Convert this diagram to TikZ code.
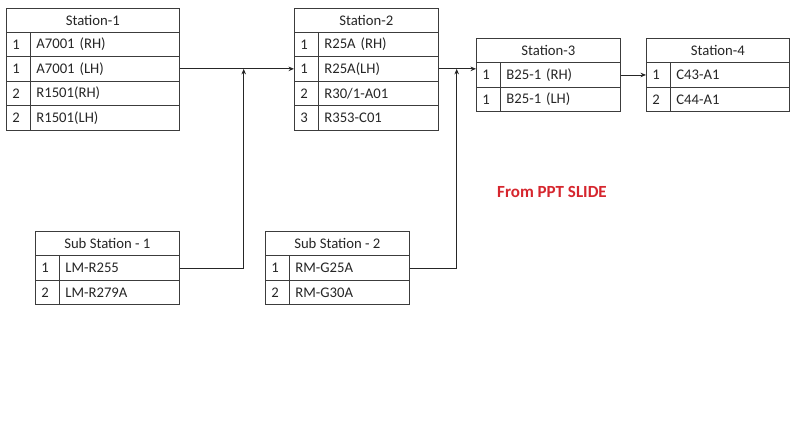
\documentclass[tikz,border=0pt]{standalone}
\usepackage{fontspec}
\setmainfont{Carlito}
\usetikzlibrary{arrows.meta}
\definecolor{slidered}{RGB}{214,38,46}
\definecolor{gridline}{RGB}{60,60,60}
\tikzset{
  cellbase/.style={draw=gridline, line width=0.7pt, minimum height=24.4pt, inner ysep=0pt, inner xsep=6pt,
    font=\fontsize{14.7}{17}\selectfont, text=black!85, anchor=north west},
  hdr/.style={cellbase, align=center},
  numcell/.style={cellbase, text width=12pt, align=left},
  txtcell/.style={cellbase, align=left},
  conn/.style={draw=black!85, line width=0.8pt},
  tip/.style={-{Stealth[length=5.5pt,width=4.5pt]}},
}
\newcommand\mktable[6]{%
  \pgfmathsetmacro\tabw{#4}%
  \pgfmathsetmacro\txw{#4-24-12}%
  \node[hdr, minimum width=\tabw pt] (#1h) at (#2,#3) {#5};
  \foreach [count=\i] \n/\t in {#6} {
    \node[numcell] (#1n\i) at (#2,{#3+\i*24.4}) {\n};
    \node[txtcell, text width=\txw pt] (#1t\i) at ({#2+24},{#3+\i*24.4}) {\t};
  }%
}
\begin{document}
\begin{tikzpicture}[x=1pt,y=-1pt]
\useasboundingbox[fill=white] (0,0) rectangle (800,442);
\mktable{sa}{6}{7.5}{173}{Station-1}{1/A7001 (RH),1/A7001 (LH),2/R1501(RH),2/R1501(LH)}
\mktable{sb}{294}{7.5}{144}{Station-2}{1/R25A (RH),1/R25A(LH),2/R30\slash 1-A01,3/R353-C01}
\mktable{sc}{476}{38}{144}{Station-3}{1/B25-1 (RH),1/B25-1 (LH)}
\mktable{sd}{646}{38}{143}{Station-4}{1/C43-A1,2/C44-A1}
\mktable{ua}{35}{231}{144}{Sub Station - 1}{1/LM-R255,2/LM-R279A}
\mktable{ub}{265}{231}{144}{Sub Station - 2}{1/RM-G25A,2/RM-G30A}
\coordinate (ja) at ([xshift=64pt]sat2.east);
\coordinate (jb) at ([xshift=18pt]sbt2.east);
\draw[conn, tip] (sat2.east) -- (sbn2.west);
\draw[conn, tip] (uat1.east) -| (ja);
\draw[conn, tip] (sbt2.east) -- (sbt2.east -| scn1.west);
\draw[conn, tip] (ubt1.east) -| (jb);
\draw[conn, tip] (sct1.east) -- (sdn1.west);
\node[font=\bfseries\fontsize{17}{20}\selectfont, text=slidered] (note) at (552,191.5) {From PPT SLIDE};
\end{tikzpicture}
\end{document}
